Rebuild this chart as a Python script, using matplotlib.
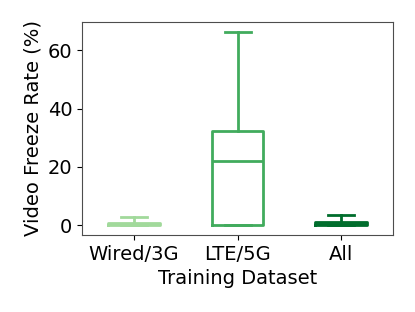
import matplotlib
matplotlib.use("Agg")
import matplotlib.pyplot as plt

categories = ["Wired/3G", "LTE/5G", "All"]
q1 = [0.0, 0.0, 0.0]
medians = [0.3, 22.0, 0.4]
q3 = [0.8, 32.3, 1.1]
whislo = [0.0, 0.0, 0.0]
whishi = [2.9, 66.4, 3.4]
colors = ["#a1d99b", "#41ab5d", "#006d2c"]

stats = []
for i, c in enumerate(categories):
    stats.append(dict(label=c, q1=q1[i], med=medians[i], q3=q3[i],
                      whislo=whislo[i], whishi=whishi[i], fliers=[]))

fig = plt.figure(figsize=(4.15, 3.12), dpi=100)
ax = fig.add_axes([0.198, 0.247, 0.749, 0.683])
for i, s in enumerate(stats):
    col = colors[i]
    ax.bxp([s], positions=[i + 1], widths=0.5, showfliers=False,
           boxprops=dict(color=col, linewidth=2),
           medianprops=dict(color=col, linewidth=2),
           whiskerprops=dict(color=col, linewidth=2),
           capprops=dict(color=col, linewidth=2))
ax.set_xlim(0.5, 3.5)
ax.set_xticks([1, 2, 3])
ax.set_xticklabels(categories, fontsize=14)
ax.tick_params(axis='y', labelsize=14)
ax.set_yticks([0, 20, 40, 60])
ax.set_xlabel("Training Dataset", fontsize=14, labelpad=4)
ax.set_ylabel("Video Freeze Rate (%)", fontsize=14)
for sp in ax.spines.values():
    sp.set_color("0.3")
fig.savefig("out.png", dpi=100)
